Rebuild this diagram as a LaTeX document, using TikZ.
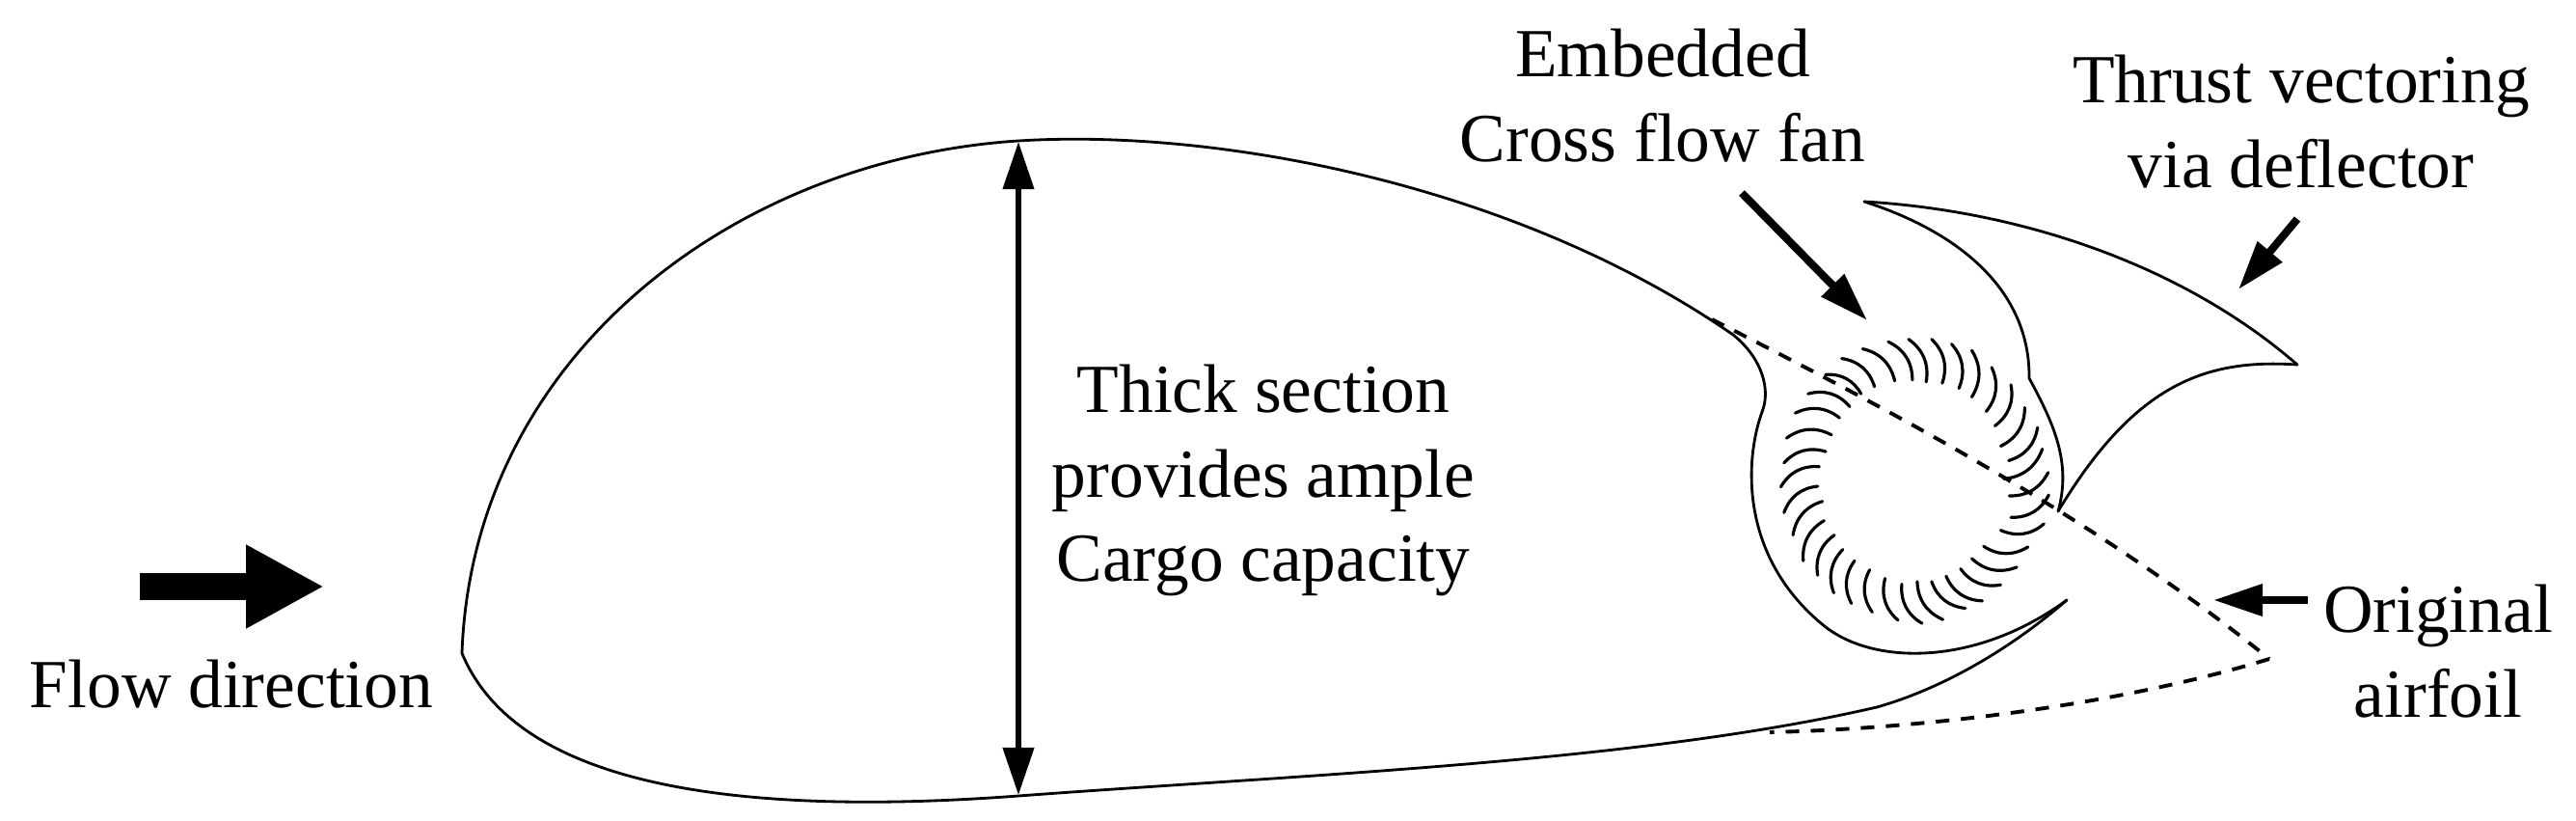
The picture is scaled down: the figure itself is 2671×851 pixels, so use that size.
\documentclass[tikz,border=0pt]{standalone}
\usepackage{fontspec}
\setmainfont{Liberation Serif}
\usetikzlibrary{arrows.meta}
\tikzset{
  outline/.style={draw=black,line width=.8pt,line cap=round,line join=round},
  airfoil/.style={draw=black,line width=1.1pt,dash pattern=on 4pt off 3.4pt},
  blade/.style={draw=black,line width=.9pt,line cap=round},
  callout/.style={draw=black,line width=2.3pt,-{Triangle[length=14.5pt,width=9pt]}},
  label/.style={font=\fontsize{20.3}{25}\selectfont,align=center,inner sep=0pt}
}
\begin{document}
\begin{tikzpicture}[x=0.01cm,y=-0.01cm]
\path[use as bounding box] (0,0) rectangle (2671,851);
% main body
\draw[outline] (479,677) .. controls (490,370) and (760,165) .. (1056,146) .. controls (1260,133) and (1570,190) .. (1797,347) .. controls (1828,372) and (1836,405) .. (1827,427);
\draw[outline] (479,677) .. controls (530,800) and (720,850) .. (1056,825) .. controls (1350,803) and (1700,790) .. (1946,733) .. controls (2020,712) and (2090,668) .. (2143,622);
% fan housing
\draw[outline] (1827,427) .. controls (1808,480) and (1805,580) .. (1893,650) .. controls (1945,690) and (2050,690) .. (2143,622);
% deflector
\draw[outline] (1933,209) .. controls (2090,218) and (2260,272) .. (2382,378);
\draw[outline] (2382,378) .. controls (2290,372) and (2215,395) .. (2134,530);
\draw[outline] (1933,209) .. controls (2030,240) and (2105,300) .. (2104,392);
\draw[outline] (2104,392) .. controls (2130,440) and (2148,480) .. (2134,530);
% original airfoil
\draw[airfoil] (1775,331) .. controls (1950,420) and (2170,535) .. (2353,683);
\draw[airfoil] (2353,683) .. controls (2200,730) and (2000,755) .. (1835,759);
% fan blades
\begin{scope}[shift={(1720,320)},x=0.003333cm,y=-0.003333cm]
\foreach \xa/\ya/\xb/\yb in {
  570/155/672/243,635/125/735/225,715/103/790/222,778/95/833/228,850/95/883/232,912/110/935/248,
  975/130/975/275,1037/183/1020/320,1097/237/1047/365,1140/308/1065/428,1180/370/1090/473,1195/437/1075/530,
  1213/510/1092/583,1215/580/1097/650,1200/670/1065/690,1150/742/1012/740,1115/805/975/778,1065/860/940/810,
  1008/910/895/833,955/933/850/850,885/968/805/850,820/980/757/858,745/970/705/840,665/945/657/813,
  600/918/610/785,545/885/573/750,495/830/547/705,450/785/515/660,418/705/510/600,390/635/495/553,
  380/555/500/492,390/480/520/445,398/403/538/393,425/325/563/340,465/265/595/305,520/205/630/265}
  \draw[blade] (\xa,\ya) to[bend left=32] (\xb,\yb);
\end{scope}
% labels
\node[label] (flowlabel) at (240,709) {Flow direction};
\node[label] (thicklabel) at (1310,498) {Thick section\\provides ample\\Cargo capacity};
\node[label] (fanlabel) at (1724,99) {Embedded\\Cross flow fan};
\node[label] (deflectorlabel) at (2386,126) {Thrust vectoring\\via deflector};
\node[label] (originallabel) at (2528,675) {Original\\airfoil};
% arrows
\coordinate (flowtail) at (145,608);
\coordinate (flowtip) at (336,608);
\coordinate (thicktop) at (1056,147);
\coordinate (thickbottom) at (1056,824);
\coordinate (fantail) at (1806,200);
\coordinate (fantip) at (1936,332);
\coordinate (deflectortail) at (2382,227);
\coordinate (deflectortip) at (2321,300);
\coordinate (originaltail) at (2393,622);
\coordinate (originaltip) at (2295,622);
\draw[line width=8pt,-{Triangle[length=23pt,width=23pt]}] (flowtail) -- (flowtip);
\draw[line width=1.6pt,{Triangle[length=14pt,width=9pt]}-{Triangle[length=14pt,width=9pt]}] (thicktop) -- (thickbottom);
\draw[callout] (fantail) -- (fantip);
\draw[callout] (deflectortail) -- (deflectortip);
\draw[callout] (originaltail) -- (originaltip);
\end{tikzpicture}
\end{document}
